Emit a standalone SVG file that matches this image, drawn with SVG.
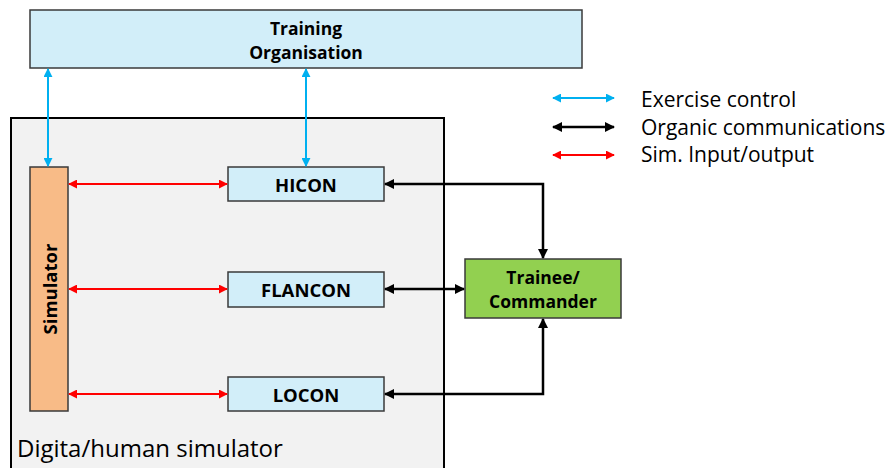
<svg xmlns="http://www.w3.org/2000/svg" width="895" height="468" viewBox="0 0 895 468">
  <style>
    .node { stroke: #3a3a3a; stroke-width: 1.5; }
    .blue { fill: #d2eef9; }
    .lbl { font-family: "Open Sans", "Noto Sans", sans-serif; font-weight: bold; font-size: 18.5px; fill: #000; text-anchor: middle; }
    .two { font-size: 17.5px; }
    .txt { font-family: "Open Sans", "Noto Sans", sans-serif; fill: #000; }
    .ex { stroke: #00b0f0; stroke-width: 2; fill: none; }
    .org { stroke: #000; stroke-width: 2.5; fill: none; }
    .sim { stroke: #ff0000; stroke-width: 2; fill: none; }
  </style>
  <defs>
    <marker id="hBlue" viewBox="0 0 10 10" refX="9" refY="5" markerWidth="4.5" markerHeight="4.5" orient="auto-start-reverse">
      <path d="M0,0 L10,5 L0,10 z" fill="#00b0f0"/>
    </marker>
    <marker id="hBlack" viewBox="0 0 10 10" refX="9" refY="5" markerWidth="4" markerHeight="4" orient="auto-start-reverse">
      <path d="M0,0 L10,5 L0,10 z" fill="#000"/>
    </marker>
    <marker id="hRed" viewBox="0 0 10 10" refX="9" refY="5" markerWidth="4.5" markerHeight="4.5" orient="auto-start-reverse">
      <path d="M0,0 L10,5 L0,10 z" fill="#ff0000"/>
    </marker>
  </defs>

  <!-- container: digital/human simulator -->
  <g id="container">
    <rect x="11" y="118" width="433" height="360" fill="#f2f2f2" stroke="#000" stroke-width="2"/>
    <text class="txt" x="17" y="457" font-size="24">Digita/human simulator</text>
  </g>

  <g id="training-organisation">
    <rect class="node blue" x="30" y="10" width="552" height="58"/>
    <text class="lbl two" x="306" y="35">Training</text>
    <text class="lbl two" x="306" y="59">Organisation</text>
  </g>

  <g id="simulator">
    <rect class="node" x="30" y="167" width="38" height="244" fill="#f8bb87"/>
    <text class="lbl" font-size="22" transform="translate(57,289) rotate(-90)">Simulator</text>
  </g>

  <g id="hicon">
    <rect class="node blue" x="228" y="167" width="156" height="34"/>
    <text class="lbl" x="306" y="192">HICON</text>
  </g>

  <g id="flancon">
    <rect class="node blue" x="228" y="272" width="156" height="35"/>
    <text class="lbl" x="306" y="297">FLANCON</text>
  </g>

  <g id="locon">
    <rect class="node blue" x="228" y="377" width="156" height="34"/>
    <text class="lbl" x="306" y="402">LOCON</text>
  </g>

  <g id="trainee">
    <rect class="node" x="465" y="259" width="156" height="59" fill="#92d050"/>
    <text class="lbl two" x="543" y="284">Trainee/</text>
    <text class="lbl two" x="543" y="308">Commander</text>
  </g>

  <g id="connectors">
    <!-- exercise control -->
    <path class="ex" d="M48,69 V166" marker-start="url(#hBlue)" marker-end="url(#hBlue)"/>
    <path class="ex" d="M306,69 V166" marker-start="url(#hBlue)" marker-end="url(#hBlue)"/>
    <!-- simulator input/output -->
    <path class="sim" d="M69,184 H227" marker-start="url(#hRed)" marker-end="url(#hRed)"/>
    <path class="sim" d="M69,289 H227" marker-start="url(#hRed)" marker-end="url(#hRed)"/>
    <path class="sim" d="M69,394 H227" marker-start="url(#hRed)" marker-end="url(#hRed)"/>
    <!-- organic communications -->
    <path class="org" d="M385,184 H543 V258" marker-start="url(#hBlack)" marker-end="url(#hBlack)"/>
    <path class="org" d="M385,289 H464" marker-start="url(#hBlack)" marker-end="url(#hBlack)"/>
    <path class="org" d="M385,394 H543 V319" marker-start="url(#hBlack)" marker-end="url(#hBlack)"/>
  </g>

  <g id="legend">
    <path class="ex" d="M553,98 H614" marker-start="url(#hBlue)" marker-end="url(#hBlue)"/>
    <path class="org" stroke-width="2" d="M553,127 H614" marker-start="url(#hBlack)" marker-end="url(#hBlack)"/>
    <path class="sim" d="M553,155 H614" marker-start="url(#hRed)" marker-end="url(#hRed)"/>
    <text class="txt" x="641" y="107" font-size="21">Exercise control</text>
    <text class="txt" x="641" y="135" font-size="21">Organic communications</text>
    <text class="txt" x="641" y="162" font-size="21">Sim. Input/output</text>
  </g>
</svg>
